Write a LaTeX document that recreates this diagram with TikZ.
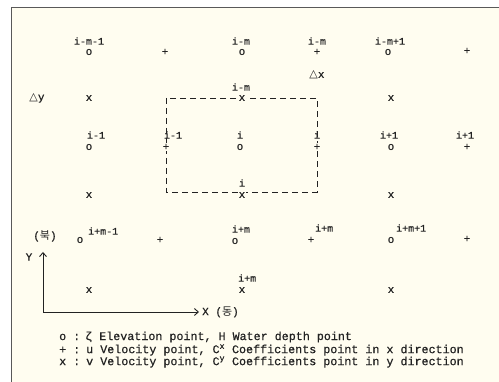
\documentclass[tikz,border=0pt]{standalone}
\usepackage{fontspec}
\setmonofont[FakeBold=0.6]{Liberation Mono}
\newfontfamily\symfont{DejaVu Sans}
\newfontfamily\korfont{Noto Sans CJK KR}
\usetikzlibrary{arrows.meta}
\definecolor{paper}{HTML}{FFFDF0}
\definecolor{ink}{HTML}{222222}
\tikzset{
  gridpt/.style={font=\ttfamily\fontsize{11}{11}\selectfont, text=ink, inner sep=0.6pt, fill=paper},
  idx/.style={font=\ttfamily\fontsize{10}{10}\selectfont, text=ink, inner sep=0pt},
  keytext/.style={font=\ttfamily\fontsize{11.7}{12}\selectfont, text=ink, anchor=west, inner sep=0pt},
}
\begin{document}
\begin{tikzpicture}[x=1pt, y=-1pt, >={Straight Barb[length=4pt,width=7pt]}]
        \useasboundingbox (0,0) rectangle (499,382);
        % ===== frame =====
        \fill[paper] (11.5,7.5) rectangle (499,382);
        \draw[black!65, line width=1.3pt] (11.5,382) -- (11.5,7.5) -- (499,7.5);

        % ===== control volume =====
        \coordinate (cvnw) at (166,98);
        \coordinate (cvse) at (317,192);
        \draw[ink, line width=0.9pt, dash pattern=on 6pt off 4pt] (cvnw) rectangle (cvse);

        % ===== row i-m =====
        \node[gridpt] (h1) at (89,52) {o};
        \node[idx] (lh1) at (89,41) {i-m-1};
        \node[gridpt] (u1) at (165,52) {+};
        \node[gridpt] (h2) at (242,52) {o};
        \node[idx] (lh2) at (241,41) {i-m};
        \node[gridpt] (u2) at (317,52) {+};
        \node[idx] (lu2) at (317,41) {i-m};
        \node[gridpt] (h3) at (388,52) {o};
        \node[idx] (lh3) at (390,41) {i-m+1};
        \node[gridpt] (u3) at (467,51) {+};
        \node[idx, font=\ttfamily\fontsize{11}{11}\selectfont] (dx) at (317,75) {{\symfont △}x};

        % ===== v row above =====
        \node[idx, font=\ttfamily\fontsize{11}{11}\selectfont] (dy) at (37,98) {{\symfont △}y};
        \node[gridpt] (v1) at (89,98) {x};
        \node[gridpt] (v2) at (242,98) {x};
        \node[idx] (lv2) at (241,87) {i-m};
        \node[gridpt] (v3) at (391,98) {x};

        % ===== row i =====
        \node[gridpt] (h4) at (89,147) {o};
        \node[idx] (lh4) at (96,135) {i-1};
        \node[gridpt] (u4) at (166,147) {+};
        \node[idx] (lu4) at (173,135) {i-1};
        \node[gridpt] (h5) at (240,147) {o};
        \node[idx] (lh5) at (240,135) {i};
        \node[gridpt] (u5) at (317,147) {+};
        \node[idx] (lu5) at (317,135) {i};
        \node[gridpt] (h6) at (391,147) {o};
        \node[idx] (lh6) at (389,135) {i+1};
        \node[gridpt] (u6) at (467,147) {+};
        \node[idx] (lu6) at (465,135) {i+1};

        % ===== v row below =====
        \node[gridpt] (v4) at (89,195) {x};
        \node[gridpt] (v5) at (242,195) {x};
        \node[idx] (lv5) at (242,183) {i};
        \node[gridpt] (v6) at (391,195) {x};

        % ===== row i+m =====
        \node[idx, font=\ttfamily\fontsize{11}{11}\selectfont] (north) at (45,236) {({\korfont 북})};
        \node[gridpt] (h7) at (80,240) {o};
        \node[idx, anchor=west] (lh7) at (88,231) {i+m-1};
        \node[gridpt] (u7) at (160,240) {+};
        \node[gridpt] (h8) at (235,241) {o};
        \node[idx] (lh8) at (241,229) {i+m};
        \node[gridpt] (u8) at (311,240) {+};
        \node[idx, anchor=west] (lu8) at (315,228) {i+m};
        \node[gridpt] (h9) at (391,240) {o};
        \node[idx, anchor=west] (lh9) at (396,228) {i+m+1};
        \node[gridpt] (u9) at (467,239) {+};

        % ===== v row bottom =====
        \node[gridpt] (v7) at (89,290) {x};
        \node[gridpt] (v8) at (242,290) {x};
        \node[idx, anchor=west] (lv8) at (238,278) {i+m};
        \node[gridpt] (v9) at (391,290) {x};

        % ===== axes =====
        \coordinate (org) at (43,312);
        \coordinate (ytip) at (43,252);
        \coordinate (xtip) at (199,312);
        \draw[ink, line width=0.9pt, ->] (org) -- (ytip);
        \draw[ink, line width=0.9pt, ->] (org) -- (xtip);
        \node[idx, font=\ttfamily\fontsize{11}{11}\selectfont] (ylbl) at (29,257) {Y};
        \node[idx, anchor=west, font=\ttfamily\fontsize{11}{11}\selectfont] (xlbl) at (202,312) {X ({\korfont 동})};

        % ===== legend =====
        \node[keytext] (k1) at (59,337) {o :};
        \node[keytext] (d1) at (85,337) {ζ Elevation point, H Water depth point};
        \node[keytext] (k2) at (59,350) {+ :};
        \node[keytext] (d2) at (86,350) {u Velocity point, C\textsuperscript{x} Coefficients point in x direction};
        \node[keytext] (k3) at (59,362) {x :};
        \node[keytext] (d3) at (86,362) {v Velocity point, C\textsuperscript{y} Coefficients point in y direction};
    \end{tikzpicture}
\end{document}
